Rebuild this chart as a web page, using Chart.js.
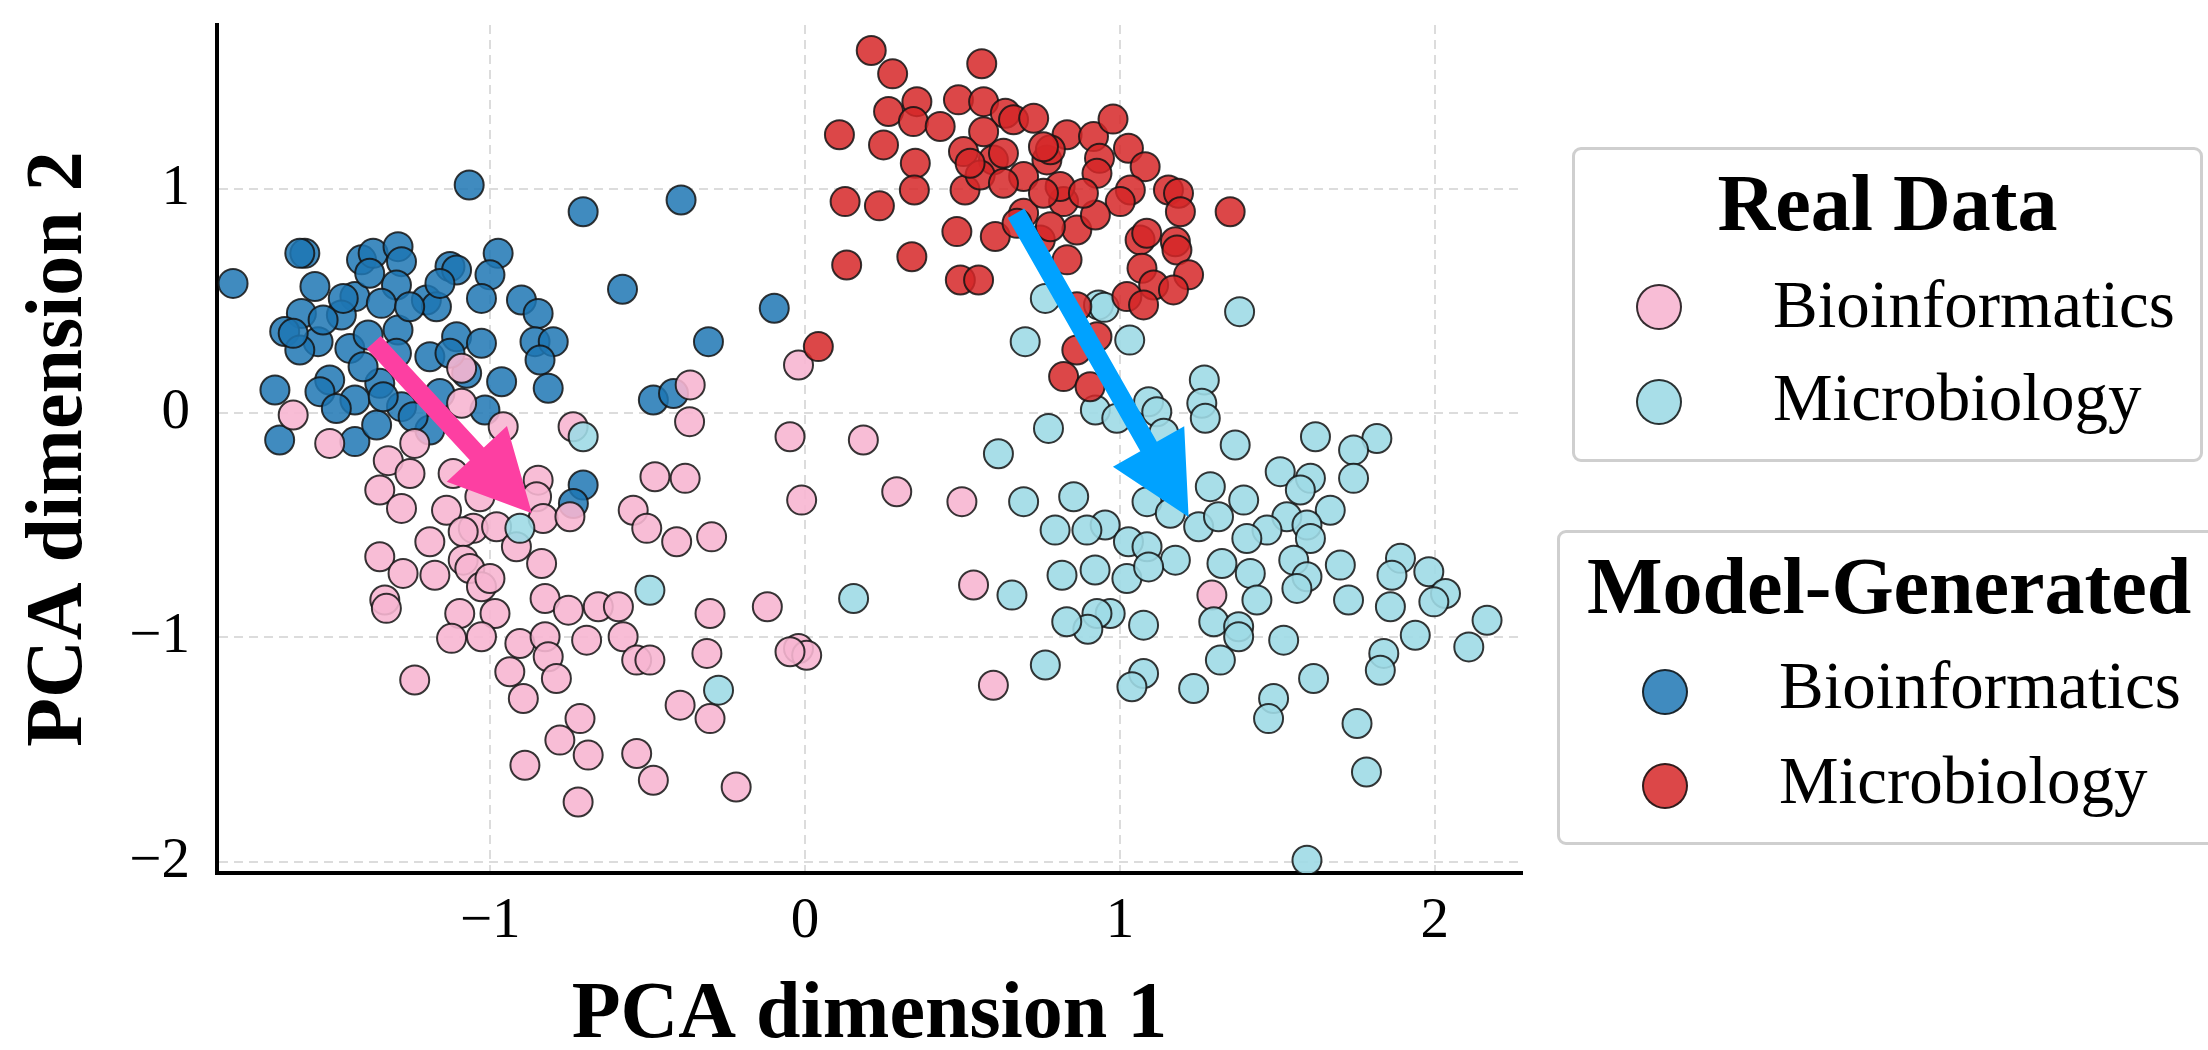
<!DOCTYPE html>
<html>
<head>
<meta charset="utf-8">
<script src="https://cdn.jsdelivr.net/npm/chart.js@4.4.1/dist/chart.umd.min.js"></script>
<style>
html,body{margin:0;padding:0;background:#fff;overflow:hidden;width:2208px;height:1050px;}
#wrap{position:absolute;left:0;top:0;width:1540px;height:1070px;}
.box{position:absolute;border:3px solid #cfcfcf;border-radius:9px;box-sizing:border-box;background:#fff;}
.t{position:absolute;font-family:"Liberation Serif",serif;line-height:1;white-space:nowrap;color:#000;}
.title{font-weight:bold;font-size:80px;}
.item{font-size:67px;}
.mk{position:absolute;width:46px;height:46px;border-radius:50%;box-sizing:border-box;border:2px solid rgba(20,20,20,0.85);}
</style>
</head>
<body>
<div id="wrap"><canvas id="c"></canvas></div>

<div class="box" style="left:1572px;top:147px;width:631px;height:315px"></div>
<div class="t title" style="left:1572px;width:631px;text-align:center;top:163px">Real Data</div>
<div class="mk" style="left:1636px;top:284px;background:rgba(247,182,210,0.9)"></div>
<div class="t item" style="left:1773px;top:271px">Bioinformatics</div>
<div class="mk" style="left:1636px;top:379px;background:rgba(158,218,229,0.9)"></div>
<div class="t item" style="left:1773px;top:364px">Microbiology</div>

<div class="box" style="left:1557px;top:530px;width:670px;height:315px"></div>
<div class="t title" style="left:1587px;top:546px">Model-Generated</div>
<div class="mk" style="left:1642px;top:669px;background:rgba(31,119,180,0.85)"></div>
<div class="t item" style="left:1779px;top:652px">Bioinformatics</div>
<div class="mk" style="left:1642px;top:763px;background:rgba(214,39,40,0.85)"></div>
<div class="t item" style="left:1779px;top:747px">Microbiology</div>

<script>
// ---- tick values ----
const xTicks = [-1, 0, 1, 2];
const yTicks = [-2, -1, 0, 1];

// ---- series (PCA dim 1, PCA dim 2) ----
const modelBioinformatics = [
[-1.067,1.019],[-0.705,0.900],[-1.817,0.580],[-0.580,0.554],[-1.589,0.714],[-1.605,0.714],[-1.409,0.685],[-1.372,0.714],
[-1.293,0.744],[-1.282,0.677],[-1.128,0.655],[-1.107,0.640],[-0.975,0.714],[-1.001,0.618],[-1.557,0.566],[-1.298,0.573],
[-1.430,0.521],[-1.203,0.506],[-1.171,0.476],[-1.028,0.513],[-0.901,0.506],[-0.848,0.446],[-1.600,0.446],[-1.473,0.439],
[-1.346,0.491],[-1.653,0.365],[-1.547,0.320],[-1.446,0.290],[-1.293,0.372],[-1.605,0.283],[-1.107,0.342],[-1.028,0.313],
[-1.192,0.253],[-0.858,0.320],[-0.800,0.320],[-0.842,0.238],[-1.298,0.268],[-0.964,0.141],[-0.816,0.112],[-1.684,0.104],
[-1.510,0.149],[-1.541,0.097],[-1.430,0.060],[-1.351,0.134],[-1.489,0.022],[-1.282,0.030],[-1.017,0.015],[-0.482,0.060],
[-1.669,-0.119],[-1.430,-0.126],[-1.361,-0.052],[-1.192,-0.074],[-1.075,0.179],[-1.388,0.350],[-1.467,0.513],[-1.160,0.580],
[-0.705,-0.320],[-0.736,-0.402],[-0.394,0.952],[-0.098,0.469],[-0.307,0.320],[-0.418,0.089],[-1.531,0.417],[-1.404,0.208],
[-1.340,0.074],[-1.245,-0.015],[-1.160,0.089],[-1.128,0.268],[-1.256,0.476],[-1.383,0.625],[-1.626,0.357]
];
const modelMicrobiology = [
[0.210,1.619],[0.278,1.515],[0.561,1.560],[0.265,1.347],[0.355,1.391],[0.344,1.302],[0.429,1.280],[0.487,1.399],
[0.567,1.391],[0.636,1.339],[0.662,1.310],[0.726,1.317],[0.567,1.257],[0.503,1.168],[0.598,1.131],[0.832,1.243],
[0.768,1.131],[0.916,1.235],[0.109,1.243],[0.249,1.198],[0.350,1.116],[0.347,0.997],[0.127,0.945],[0.236,0.926],
[0.508,0.997],[0.556,1.064],[0.694,1.057],[0.630,1.027],[0.821,0.945],[0.694,0.893],[0.863,0.818],[0.482,0.811],
[0.604,0.789],[0.747,0.774],[0.832,0.685],[0.132,0.662],[0.339,0.699],[0.493,0.595],[0.551,0.595],[0.042,0.298],
[0.863,0.476],[0.863,0.283],[0.821,0.164],[0.905,0.119],[0.779,1.176],[0.978,1.313],[1.027,1.183],[1.080,1.101],
[0.935,1.138],[0.927,1.071],[1.033,0.997],[1.001,0.945],[0.922,0.885],[1.154,0.997],[1.186,0.982],[1.192,0.900],
[1.350,0.900],[1.064,0.774],[1.085,0.804],[1.176,0.766],[1.181,0.729],[1.070,0.647],[1.218,0.618],[1.107,0.573],
[1.170,0.551],[1.022,0.521],[1.075,0.484],[0.927,0.342],[0.757,1.190],[0.810,1.012],[0.884,0.982],[0.757,0.982],
[0.630,1.161],[0.524,1.116],[0.673,0.848],[0.779,0.833]
];
const realBioinformatics = [
[-1.091,0.201],[-1.091,0.045],[-1.626,-0.007],[-0.959,-0.060],[-0.737,-0.060],[-1.510,-0.134],[-1.240,-0.134],[-0.021,0.216],
[-0.365,0.127],[-0.367,-0.037],[-0.048,-0.104],[0.185,-0.119],[-1.324,-0.211],[-1.255,-0.268],[-1.351,-0.342],[-1.282,-0.424],
[-1.118,-0.268],[-1.139,-0.432],[-0.848,-0.298],[-0.853,-0.372],[-0.832,-0.469],[-0.747,-0.461],[-1.054,-0.513],[-0.980,-0.506],
[-1.033,-0.372],[-1.086,-0.528],[-1.192,-0.573],[-1.351,-0.640],[-1.277,-0.714],[-1.176,-0.722],[-1.086,-0.655],[-1.065,-0.692],
[-1.028,-0.774],[-1.001,-0.737],[-1.335,-0.833],[-1.330,-0.870],[-1.097,-0.893],[-0.985,-0.893],[-1.123,-1.004],[-1.028,-0.997],
[-0.917,-0.595],[-0.837,-0.670],[-0.826,-0.826],[-0.752,-0.878],[-0.657,-0.863],[-0.593,-0.863],[-0.694,-1.012],[-0.578,-0.997],
[-0.535,-1.101],[-0.493,-1.101],[-0.906,-1.027],[-0.826,-0.997],[-0.816,-1.086],[-0.938,-1.153],[-0.790,-1.183],[-0.895,-1.272],
[-1.240,-1.190],[-0.715,-1.362],[-0.779,-1.458],[-0.689,-1.525],[-0.890,-1.570],[-0.535,-1.518],[-0.482,-1.637],[-0.721,-1.734],
[-0.477,-0.283],[-0.546,-0.432],[-0.503,-0.513],[-0.381,-0.290],[-0.011,-0.387],[0.291,-0.350],[0.498,-0.394],[-0.408,-0.573],
[-0.297,-0.551],[-0.302,-0.893],[-0.120,-0.863],[-0.312,-1.071],[-0.021,-1.049],[0.005,-1.079],[-0.048,-1.064],[-0.397,-1.302],
[-0.302,-1.362],[0.535,-0.766],[0.598,-1.213],[-0.219,-1.667],[1.292,-0.811]
];
const realMicrobiology = [
[-0.705,-0.104],[0.763,0.513],[0.932,0.484],[0.699,0.320],[0.922,0.015],[0.773,-0.067],[0.614,-0.180],[0.950,0.473],
[1.031,0.327],[1.380,0.454],[1.268,0.149],[1.260,0.045],[1.271,-0.022],[1.091,0.052],[1.117,0.007],[0.990,-0.022],
[1.366,-0.141],[1.621,-0.104],[1.816,-0.112],[1.742,-0.164],[1.139,-0.089],[1.742,-0.290],[1.509,-0.260],[1.605,-0.290],
[1.573,-0.342],[1.287,-0.327],[1.393,-0.387],[1.086,-0.394],[1.160,-0.446],[1.250,-0.506],[1.313,-0.461],[1.668,-0.432],
[1.530,-0.461],[1.467,-0.521],[1.403,-0.558],[1.594,-0.498],[1.605,-0.558],[0.953,-0.498],[1.027,-0.573],[1.086,-0.595],
[1.176,-0.655],[1.324,-0.670],[1.414,-0.714],[1.552,-0.655],[1.594,-0.729],[1.562,-0.781],[1.700,-0.677],[1.022,-0.737],
[0.921,-0.699],[1.091,-0.685],[1.891,-0.647],[1.864,-0.722],[1.981,-0.707],[2.034,-0.804],[1.997,-0.841],[1.859,-0.863],
[1.726,-0.833],[1.435,-0.833],[0.969,-0.893],[0.927,-0.893],[0.898,-0.963],[1.075,-0.945],[1.298,-0.930],[1.377,-0.952],
[1.377,-0.997],[1.520,-1.012],[1.938,-0.990],[2.166,-0.923],[2.108,-1.042],[1.838,-1.071],[1.827,-1.146],[1.319,-1.101],
[1.075,-1.161],[1.038,-1.220],[1.234,-1.228],[1.615,-1.183],[1.488,-1.272],[1.472,-1.362],[1.753,-1.384],[1.783,-1.600],
[1.594,-1.994],[0.694,-0.394],[0.853,-0.372],[0.895,-0.521],[0.794,-0.521],[0.816,-0.722],[0.657,-0.811],[0.831,-0.930],
[0.763,-1.123],[0.154,-0.826],[-0.275,-1.235],[-0.493,-0.789],[-0.906,-0.513]
];

// ---- arrow annotations (data coordinates: from -> to) ----
const bioArrowFrom = [-1.370, 0.317], bioArrowTo = [-0.868, -0.446];
const microArrowFrom = [0.670, 0.893], microArrowTo = [1.218, -0.462];

const toXY = arr => arr.map(p => ({x: p[0], y: p[1]}));
const fmt = v => (v < 0 ? '\u2212' + Math.abs(v) : String(v));
const SERIF = '"Liberation Serif", serif';

const arrowPlugin = {
  id: 'arrows',
  afterDatasetsDraw(chart) {
    const {ctx, scales: {x, y}} = chart;
    const list = [
      {from: bioArrowFrom, to: bioArrowTo, color: '#fd3fa2'},
      {from: microArrowFrom, to: microArrowTo, color: '#00a2ff'}
    ];
    list.forEach(a => {
      const x0 = x.getPixelForValue(a.from[0]), y0 = y.getPixelForValue(a.from[1]);
      const x1 = x.getPixelForValue(a.to[0]), y1 = y.getPixelForValue(a.to[1]);
      const dx = x1 - x0, dy = y1 - y0, L = Math.hypot(dx, dy);
      const ux = dx / L, uy = dy / L, px = -uy, py = ux;
      const hl = 81, hw = 41, sw = 9.5;
      const bx = x1 - ux * hl, by = y1 - uy * hl;
      ctx.save();
      ctx.fillStyle = a.color;
      ctx.beginPath();
      ctx.moveTo(x0 + px * sw, y0 + py * sw);
      ctx.lineTo(bx + px * sw, by + py * sw);
      ctx.lineTo(bx + px * hw, by + py * hw);
      ctx.lineTo(x1, y1);
      ctx.lineTo(bx - px * hw, by - py * hw);
      ctx.lineTo(bx - px * sw, by - py * sw);
      ctx.lineTo(x0 - px * sw, y0 - py * sw);
      ctx.closePath();
      ctx.fill();
      ctx.restore();
    });
  }
};

new Chart(document.getElementById('c'), {
  type: 'scatter',
  data: {
    datasets: [
      {label: 'Model-Generated Microbiology', data: toXY(modelMicrobiology), backgroundColor: 'rgba(214,39,40,0.85)', order: 0, clip: 0},
      {label: 'Real Data Microbiology', data: toXY(realMicrobiology), backgroundColor: 'rgba(158,218,229,0.9)', order: 1, clip: 0},
      {label: 'Real Data Bioinformatics', data: toXY(realBioinformatics), backgroundColor: 'rgba(247,182,210,0.9)', order: 2, clip: 0},
      {label: 'Model-Generated Bioinformatics', data: toXY(modelBioinformatics), backgroundColor: 'rgba(31,119,180,0.85)', order: 3, clip: 0}
    ]
  },
  options: {
    responsive: true,
    maintainAspectRatio: false,
    animation: false,
    devicePixelRatio: 1,
    events: [],
    layout: {padding: {top: 25, right: 18, bottom: 0, left: 0}},
    elements: {point: {radius: 14.5, hoverRadius: 14.5, borderWidth: 2, borderColor: 'rgba(20,20,20,0.85)'}},
    plugins: {legend: {display: false}, tooltip: {enabled: false}},
    scales: {
      x: {
        type: 'linear', min: -1.868, max: 2.277,
        afterBuildTicks: s => { s.ticks = xTicks.map(v => ({value: v})); },
        afterFit: s => { s.height = 197; s.paddingLeft = 0; s.paddingRight = 0; },
        grid: {color: '#dcdcdc', lineWidth: 2, drawTicks: false},
        border: {display: true, color: '#000', width: 4, dash: [9, 6]},
        ticks: {font: {family: SERIF, size: 57}, color: '#000', padding: 15, callback: fmt, maxRotation: 0},
        title: {display: true, text: 'PCA dimension 1', color: '#000',
                font: {family: SERIF, size: 80, weight: 'bold'}, padding: {top: 0, bottom: 6}}
      },
      y: {
        type: 'linear', min: -2.051, max: 1.733,
        afterBuildTicks: s => { s.ticks = yTicks.map(v => ({value: v})); },
        afterFit: s => { s.width = 217; s.paddingTop = 0; s.paddingBottom = 0; },
        grid: {color: '#dcdcdc', lineWidth: 2, drawTicks: false},
        border: {display: true, color: '#000', width: 4, dash: [9, 6]},
        ticks: {font: {family: SERIF, size: 57}, color: '#000', padding: 27, callback: fmt},
        title: {display: true, text: 'PCA dimension 2', color: '#000',
                font: {family: SERIF, size: 80, weight: 'bold'}, padding: {top: 12, bottom: 0}}
      }
    }
  },
  plugins: [arrowPlugin]
});
</script>
</body>
</html>
